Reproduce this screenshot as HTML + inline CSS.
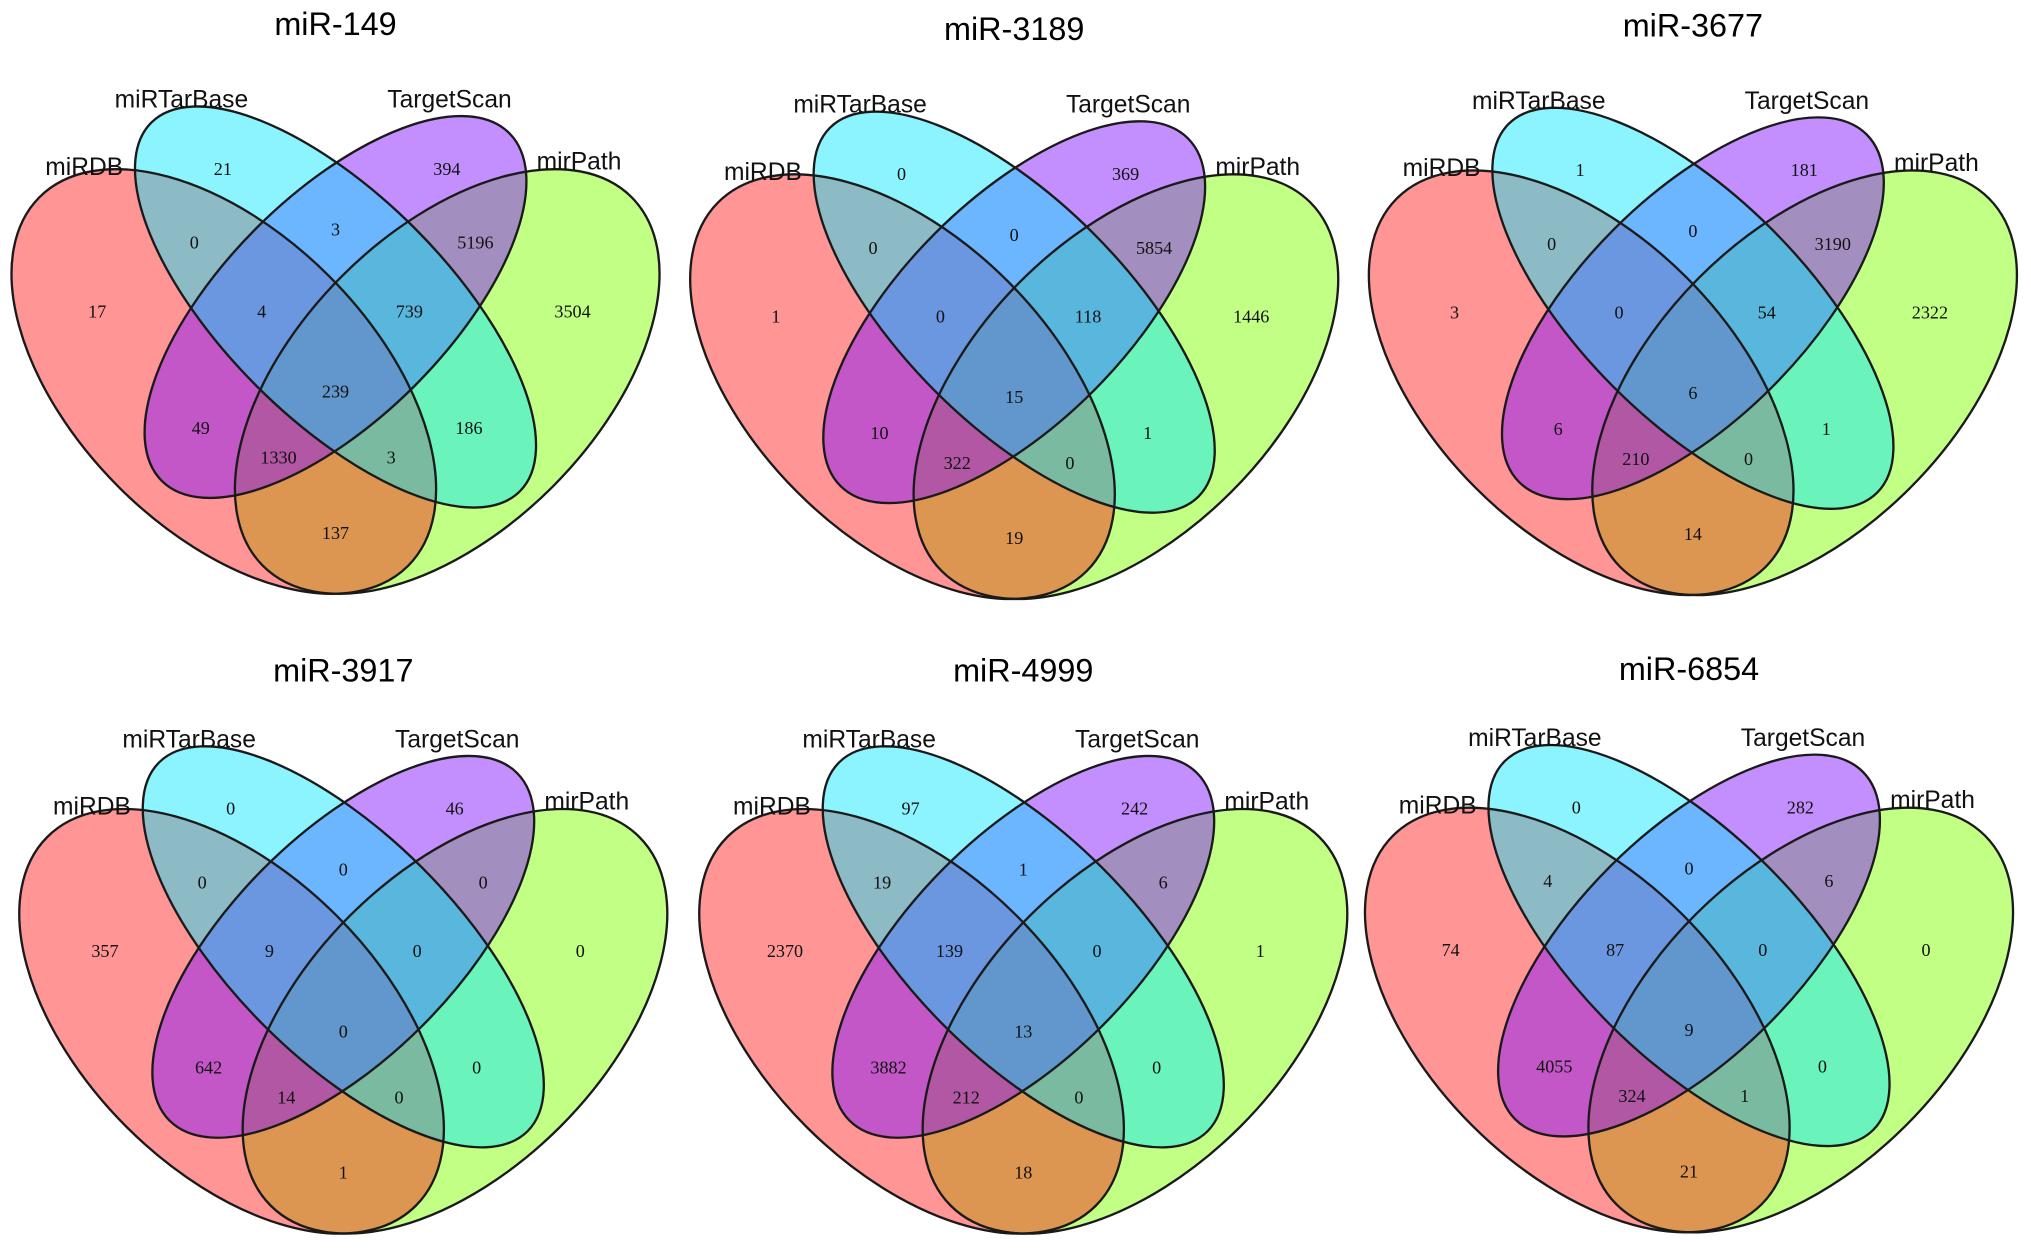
<!DOCTYPE html>
<html><head><meta charset="utf-8"><style>
html,body{margin:0;padding:0;background:#fff;}
svg{display:block;}
</style></head><body>
<svg id="chart" width="2031" height="1257" viewBox="0 0 1568 970.5" xmlns="http://www.w3.org/2000/svg"></svg>
<script>
const titles = ["miR-149","miR-3189","miR-3677","miR-3917","miR-4999","miR-6854"];
const setNames = ["miRDB","miRTarBase","TargetScan","mirPath"];
// region order: R,B,P,G, RB,BP,PG, RBP,BPG, RBPG, RP,BG, RPG,RBG, RG
const regionKeys = ["r","b","p","g","rb","bp","pg","rbp","bpg","rbpg","rp","bg","rpg","rbg","rg"];
const vals149  = [17,21,394,3504,0,3,5196,4,739,239,49,186,1330,3,137];
const vals3189 = [1,0,369,1446,0,0,5854,0,118,15,10,1,322,0,19];
const vals3677 = [3,1,181,2322,0,0,3190,0,54,6,6,1,210,0,14];
const vals3917 = [357,0,46,0,0,0,0,9,0,0,642,0,14,0,1];
const vals4999 = [2370,97,242,1,19,1,6,139,0,13,3882,0,212,0,18];
const vals6854 = [74,0,282,0,4,0,6,87,0,9,4055,0,324,1,21];
const panelValues = [vals149,vals3189,vals3677,vals3917,vals4999,vals6854];

const NS="http://www.w3.org/2000/svg";
const svg=document.getElementById('chart');
const centers=[[259,302],[783,306],[1307,303],[265,796],[790,796],[1304,795]];
const S=575;
// draw order: mirPath, miRDB, TargetScan, miRTarBase
const ells=[
 {x:0.65,y:0.47,a:0.35,b:0.2,rot:-45,fill:"rgba(127,255,0,0.48)",name:"mirpath-ellipse"},
 {x:0.35,y:0.47,a:0.35,b:0.2,rot:45,fill:"rgba(255,20,20,0.45)",name:"mirdb-ellipse"},
 {x:0.5,y:0.57,a:0.33,b:0.15,rot:-45,fill:"rgba(130,20,255,0.48)",name:"targetscan-ellipse"},
 {x:0.5,y:0.57,a:0.35,b:0.15,rot:45,fill:"rgba(0,230,255,0.45)",name:"mirtarbase-ellipse"}
];
const labelOff=[[-184,-62],[-87,-172],[86,-172],[183,-62],[-109,-115],[0,-125],[108,-115],[-57,-62],[57,-62],[0,0],[-104,28],[103,28],[-44,51],[43,51],[0,109]];
const setOff=[[-194,-174],[-119,-226],[88,-226],[188,-178]];
function el(t,a){const e=document.createElementNS(NS,t);for(const k in a)e.setAttribute(k,a[k]);return e;}
panelValues.forEach((vals,i)=>{
  const [cx,cy]=centers[i];
  const g=el('g',{});
  
  
  svg.appendChild(g);
  const ux=u=>cx+(u-0.5)*S, uy=v=>cy-(v-0.457)*S;
  ells.forEach(e=>{
    const x=ux(e.x),y=uy(e.y);
    const E=el('ellipse',{cx:x,cy:y,rx:e.a*S,ry:e.b*S,transform:`rotate(${e.rot} ${x} ${y})`,fill:e.fill,stroke:"none"});
    
    
    g.appendChild(E);
  });
  ells.forEach(e=>{
    const x=ux(e.x),y=uy(e.y);
    const E=el('ellipse',{cx:x,cy:y,rx:e.a*S,ry:e.b*S,transform:`rotate(${e.rot} ${x} ${y})`,fill:"none",stroke:"#1a1a1a","stroke-width":1.8});
    
    
    g.appendChild(E);
  });
  vals.forEach((v,j)=>{
    const t=el('text',{x:cx+labelOff[j][0],y:cy+labelOff[j][1]+5,'text-anchor':'middle','font-family':'"Liberation Serif",serif','font-size':14,fill:'#111'});
    t.textContent=v;
    
    
    g.appendChild(t);
  });
  setNames.forEach((n,j)=>{
    const t=el('text',{x:cx+setOff[j][0],y:cy+setOff[j][1]+7,'text-anchor':'middle','font-family':'"Liberation Sans",sans-serif','font-size':19,fill:'#111'});
    t.textContent=n;
    
    
    g.appendChild(t);
  });
  const t=el('text',{x:cx,y:cy-(i<3?284:279)+9,'text-anchor':'middle','font-family':'"Liberation Sans",sans-serif','font-size':25,fill:'#000'});
  t.textContent=titles[i];
  
  
  g.appendChild(t);
});
</script>
</body></html>
